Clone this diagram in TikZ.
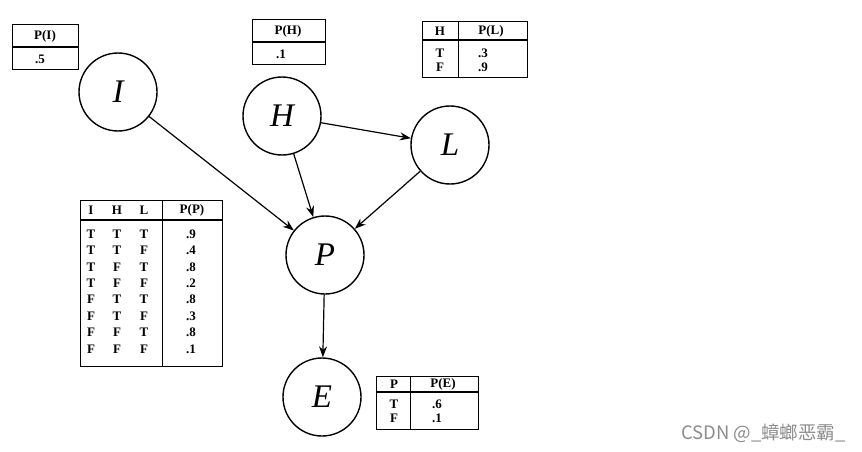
\documentclass[tikz,border=0pt]{standalone}
\usepackage{fontspec}
\setmainfont{Liberation Serif}
\newfontfamily\cjk{Noto Sans CJK SC}
\usetikzlibrary{arrows.meta}
\begin{document}
\begin{tikzpicture}[x=1pt,y=-1pt,
  var/.style={circle,draw,line width=1.4pt,minimum size=78pt,inner sep=0pt,font=\fontsize{33}{33}\selectfont\itshape},
  edge/.style={line width=1.2pt,-{Stealth[length=11pt,width=8pt]}},
  cell/.style={inner sep=0pt,font=\fontsize{13}{13}\selectfont\bfseries},
  tbl/.style={line width=1pt},
  thick rule/.style={line width=1.6pt}]
\useasboundingbox (0,0) rectangle (862,452);
% variable nodes
\node[var] (I) at (118,92) {I};
\node[var] (H) at (282,116) {H};
\node[var] (L) at (450,145) {L};
\node[var] (P) at (325,255) {P};
\node[var] (E) at (322,397) {E};
% edges
\draw[edge] (I) -- (P);
\draw[edge] (H) -- (P);
\draw[edge] (H) -- (L);
\draw[edge] (L) -- (P);
\draw[edge] (P) -- (E);
% table P(I)
\draw[tbl] (12,25) rectangle (78,70);
\draw[thick rule] (12,47) -- (78,47);
\node[cell] (tI1) at (45,36) {P(I)};
\node[cell] (tI2) at (40,59) {.5};
% table P(H)
\draw[tbl] (252,20) rectangle (325,65);
\draw[thick rule] (252,42) -- (325,42);
\node[cell] (tH1) at (288,31) {P(H)};
\node[cell] (tH2) at (281,54) {.1};
% table P(L)
\draw[tbl] (422,22) rectangle (527,78);
\draw[thick rule] (422,40) -- (527,40);
\draw[tbl] (458,22) -- (458,78);
\node[cell] (tL1) at (440,31) {H};
\node[cell] (tL2) at (491,31) {P(L)};
\node[cell] (tL3) at (440,53) {T};
\node[cell] (tL4) at (483,53) {.3};
\node[cell] (tL5) at (440,67) {F};
\node[cell] (tL6) at (483,67) {.9};
% table P(P)
\draw[tbl] (80,200) rectangle (222,366);
\draw[thick rule] (80,220) -- (222,220);
\draw[tbl] (162,200) -- (162,366);
\node[cell] (pA) at (91,210) {I};
\node[cell] (pB) at (117,210) {H};
\node[cell] (pC) at (144,210) {L};
\node[cell] (pD) at (192,210) {P(P)};
\foreach \a/\b/\c/\v [count=\k from 0] in {T/T/T/.9,T/T/F/.4,T/F/T/.8,T/F/F/.2,F/T/T/.8,F/T/F/.3,F/F/T/.8,F/F/F/.1}{
  \node[cell] (pa\k) at (91,{234+16.4*\k}) {\a};
  \node[cell] (pb\k) at (117,{234+16.4*\k}) {\b};
  \node[cell] (pc\k) at (144,{234+16.4*\k}) {\c};
  \node[cell] (pv\k) at (191,{234+16.4*\k}) {\v};
}
% table P(E)
\draw[tbl] (376,376) rectangle (478,429);
\draw[thick rule] (376,392) -- (478,392);
\draw[tbl] (410,376) -- (410,429);
\node[cell] (tE1) at (394,384) {P};
\node[cell] (tE2) at (443,384) {P(E)};
\node[cell] (tE3) at (394,404) {T};
\node[cell] (tE4) at (437,404) {.6};
\node[cell] (tE5) at (394,418) {F};
\node[cell] (tE6) at (437,418) {.1};
% watermark
\node[anchor=east,text=black!45,inner sep=0pt,font=\cjk\fontsize{18.5}{18.5}\selectfont] (wm) at (846,433) {CSDN @\_蟑螂恶霸\_};
\end{tikzpicture}
\end{document}
